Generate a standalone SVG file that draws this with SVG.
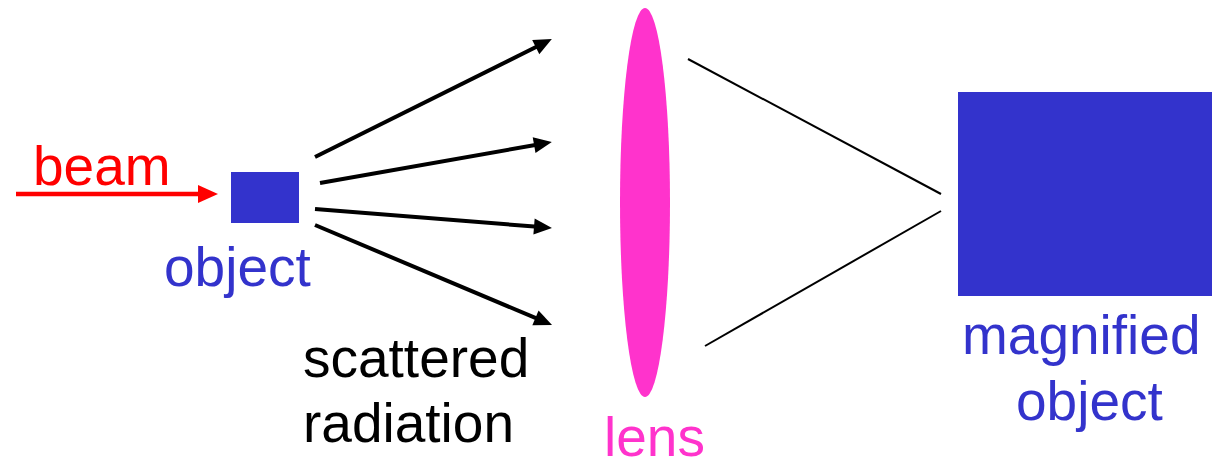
<svg xmlns="http://www.w3.org/2000/svg" width="1215" height="462" viewBox="0 0 1215 462">
<style>
.t{font-family:"Liberation Sans",Arial,sans-serif;font-size:55px}
.blue{fill:#3333CC}
.ray{stroke:#000;stroke-width:4;fill:none}
</style>
<defs>
<marker id="ah" markerUnits="userSpaceOnUse" markerWidth="19" markerHeight="17" refX="7" refY="8" orient="auto" overflow="visible">
<path d="M0,0 L18,8 L0,16 z" fill="#000"/>
</marker>
<marker id="ahr" markerUnits="userSpaceOnUse" markerWidth="21" markerHeight="19" refX="8" refY="9" orient="auto" overflow="visible">
<path d="M0,0 L20,9 L0,18 z" fill="#FF0000"/>
</marker>
</defs>
<rect width="1215" height="462" fill="#fff"/>
<g id="beam">
<text class="t" x="33" y="185" fill="#FF0000">beam</text>
</g>
<g id="object">
<rect x="231" y="172" width="68" height="51" class="blue"/>
<text class="t blue" x="164" y="286">object</text>
</g>
<g id="scattered">
<text class="t" x="303" y="377" fill="#000">scattered</text>
<text class="t" x="303" y="442" fill="#000">radiation</text>
</g>
<g id="lens">
<ellipse cx="645" cy="202.5" rx="25" ry="194.5" fill="#FF33CC"/>
<text class="t" x="604" y="456" fill="#FF33CC">lens</text>
</g>
<g id="magnified">
<rect x="958" y="92" width="254" height="204" class="blue"/>
<text class="t blue" x="962" y="354">magnified</text>
<text class="t blue" x="1016" y="420">object</text>
</g>
<g id="connectors">
<line x1="16" y1="194" x2="206" y2="194" stroke="#FF0000" stroke-width="4.5" marker-end="url(#ahr)"/>
<line class="ray" x1="315" y1="157" x2="542" y2="44" marker-end="url(#ah)"/>
<line class="ray" x1="320" y1="183" x2="541" y2="144" marker-end="url(#ah)"/>
<line class="ray" x1="315" y1="209" x2="541" y2="227.1" marker-end="url(#ah)"/>
<line class="ray" x1="315" y1="225" x2="541.9" y2="320.7" marker-end="url(#ah)"/>
<line x1="688" y1="59" x2="941" y2="194" stroke="#000" stroke-width="2"/>
<line x1="705" y1="346" x2="941" y2="211" stroke="#000" stroke-width="2"/>
</g>
</svg>
